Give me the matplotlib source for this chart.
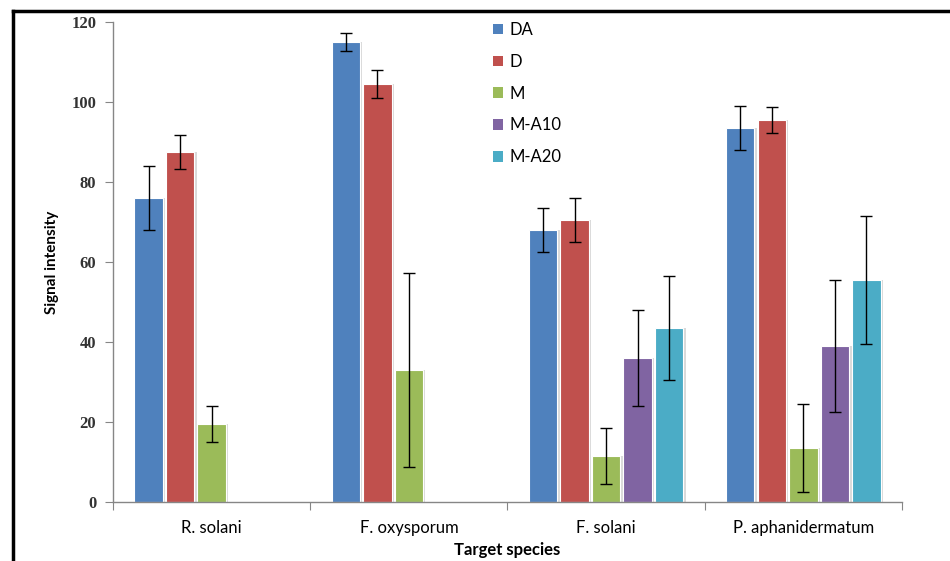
import numpy as np
import matplotlib
matplotlib.use("Agg")
import matplotlib.pyplot as plt
from matplotlib.patches import Patch
from matplotlib.lines import Line2D

categories = ["R. solani", "F. oxysporum", "F. solani", "P. aphanidermatum"]
series = ["DA", "D", "M", "M-A10", "M-A20"]
colors = ["#4F81BD", "#C0504D", "#9BBB59", "#8064A2", "#4BACC6"]

DA = [76, 115, 68, 93.5]
DA_err = [8, 2.3, 5.5, 5.5]
D = [87.5, 104.5, 70.5, 95.5]
D_err = [4.3, 3.5, 5.5, 3.3]
M = [19.5, 33, 11.5, 13.5]
M_err = [4.5, 24.3, 7, 11]
MA10 = [np.nan, np.nan, 36, 39]
MA10_err = [np.nan, np.nan, 12, 16.5]
MA20 = [np.nan, np.nan, 43.5, 55.5]
MA20_err = [np.nan, np.nan, 13, 16]

yticks = [0, 20, 40, 60, 80, 100, 120]

values = [DA, D, M, MA10, MA20]
errors = [DA_err, D_err, M_err, MA10_err, MA20_err]

W, H = 950, 561
fig = plt.figure(figsize=(W / 100, H / 100), dpi=100)
ax = fig.add_axes([113 / W, 1 - 502 / H, (902 - 113) / W, (502 - 22) / H])

x = np.arange(len(categories))
slot = 0.16
for j, (vals, errs, c, name) in enumerate(zip(values, errors, colors, series)):
    pos = x + (j - 2) * slot
    # soft shadow
    ax.bar(pos + 0.012, vals, width=slot * 0.9, color="#d9d9d9", zorder=1)
    ax.bar(pos, vals, width=slot * 0.9, color=c, edgecolor="white",
           linewidth=0.8, zorder=2)
    ax.errorbar(pos, vals, yerr=errs, fmt="none", ecolor="black",
                elinewidth=1, capsize=4, capthick=1, zorder=3)

ax.set_xlim(-0.5, len(categories) - 0.5)
ax.set_ylim(0, 120)
ax.set_yticks(yticks)
ax.set_yticklabels([str(t) for t in yticks], family="Liberation Serif",
                   fontsize=12, fontweight="bold", color="#333333")
ax.set_xticks(np.arange(-0.5, len(categories), 1.0))
ax.set_xticklabels([])
ax.set_xticks(x, minor=True)
ax.set_xticklabels(categories, minor=True, family="Lato", fontsize=12)
ax.tick_params(axis="x", which="minor", length=0, pad=13)
ax.tick_params(axis="x", which="major", length=6, color="#868686")
ax.tick_params(axis="y", length=6, color="#868686", pad=6)

for s in ["top", "right"]:
    ax.spines[s].set_visible(False)
for s in ["left", "bottom"]:
    ax.spines[s].set_color("#868686")
    ax.spines[s].set_linewidth(1)

ax.set_ylabel("Signal intensity", family="Lato", fontweight="bold",
              fontsize=11, labelpad=9)
fig.text(507 / W, 1 - 550 / H, "Target species", family="Lato",
         fontweight="bold", fontsize=12, ha="center", va="center")

handles = [Patch(facecolor=c, edgecolor="none") for c in colors]
leg = fig.legend(handles, series, loc="upper left",
                 bbox_to_anchor=(478 / W, 1 - 7 / H), frameon=False,
                 prop={"family": "Lato", "size": 12}, handlelength=0.6,
                 handleheight=0.6, handletextpad=0.4, labelspacing=0.95)

# outer frame lines (left and top)
fig.add_artist(Line2D([13 / W, 13 / W], [0, 1 - 11 / H], color="black",
                      linewidth=2.5, transform=fig.transFigure))
fig.add_artist(Line2D([13 / W, 1], [1 - 11 / H, 1 - 11 / H], color="black",
                      linewidth=2.5, transform=fig.transFigure))

fig.savefig("out.png", dpi=100)
